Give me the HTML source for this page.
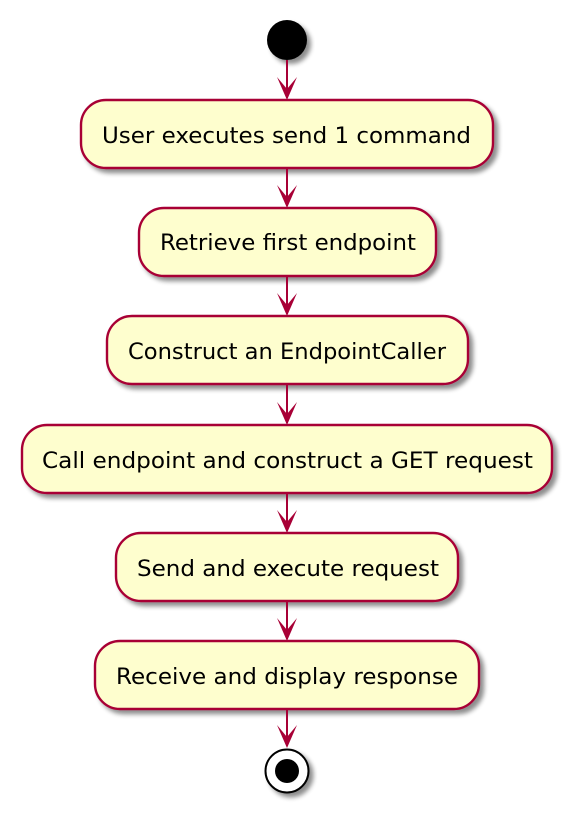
<!DOCTYPE html>
<html><head><meta charset="utf-8"><style>
html,body{margin:0;padding:0;background:#fff;}
svg{display:block;}
text{font-family:"DejaVu Sans","Liberation Sans",sans-serif;font-size:22px;fill:#000;}
</style></head><body>
<svg width="584" height="825" viewBox="0 0 584 825" xmlns="http://www.w3.org/2000/svg">
<defs>
<filter id="sh" x="-10%" y="-20%" width="130%" height="150%">
<feGaussianBlur in="SourceAlpha" stdDeviation="2.5"/>
<feOffset dx="4" dy="4" result="b"/>
<feComponentTransfer><feFuncA type="linear" slope="0.45"/></feComponentTransfer>
<feMerge><feMergeNode/><feMergeNode in="SourceGraphic"/></feMerge>
</filter>
</defs>
<circle cx="287" cy="40" r="20" fill="#000" filter="url(#sh)"/>
<g fill="#FEFECE" stroke="#A80036" stroke-width="2.4">
<rect x="81" y="100" width="412" height="68" rx="25" filter="url(#sh)"/>
<rect x="139" y="208" width="297" height="68" rx="25" filter="url(#sh)"/>
<rect x="107" y="316" width="361" height="68" rx="25" filter="url(#sh)"/>
<rect x="22" y="425" width="530" height="68" rx="25" filter="url(#sh)"/>
<rect x="116" y="533" width="342" height="68" rx="25" filter="url(#sh)"/>
<rect x="95" y="641" width="384" height="68" rx="25" filter="url(#sh)"/>
</g>
<g stroke="#A80036" stroke-width="2">
<line x1="287" y1="60" x2="287" y2="98"/>
<line x1="287" y1="168" x2="287" y2="206"/>
<line x1="287" y1="276" x2="287" y2="314"/>
<line x1="287" y1="384" x2="287" y2="423"/>
<line x1="287" y1="493" x2="287" y2="531"/>
<line x1="287" y1="601" x2="287" y2="639"/>
<line x1="287" y1="709" x2="287" y2="746"/>
</g>
<g fill="#A80036">
<path d="M277,77 L287,100 L297,77 L287,89 Z"/>
<path d="M277,185 L287,208 L297,185 L287,197 Z"/>
<path d="M277,293 L287,316 L297,293 L287,305 Z"/>
<path d="M277,402 L287,425 L297,402 L287,414 Z"/>
<path d="M277,510 L287,533 L297,510 L287,522 Z"/>
<path d="M277,618 L287,641 L297,618 L287,630 Z"/>
<path d="M277,725 L287,748 L297,725 L287,737 Z"/>
</g>
<circle cx="287" cy="771" r="21.5" fill="#fff" stroke="#000" stroke-width="2" filter="url(#sh)"/>
<circle cx="287" cy="771" r="12" fill="#000"/>
<text x="102" y="143" textLength="369" lengthAdjust="spacingAndGlyphs">User executes send 1 command</text>
<text x="160" y="250" textLength="256" lengthAdjust="spacingAndGlyphs">Retrieve first endpoint</text>
<text x="128" y="359" textLength="318" lengthAdjust="spacingAndGlyphs">Construct an EndpointCaller</text>
<text x="42" y="468" textLength="491" lengthAdjust="spacingAndGlyphs">Call endpoint and construct a GET request</text>
<text x="137" y="576" textLength="302" lengthAdjust="spacingAndGlyphs">Send and execute request</text>
<text x="116" y="684" textLength="342" lengthAdjust="spacingAndGlyphs">Receive and display response</text>
</svg>
</body></html>
